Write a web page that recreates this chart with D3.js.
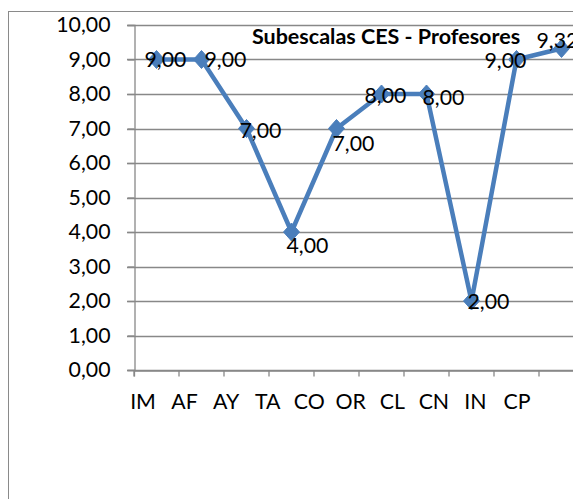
<!DOCTYPE html>
<html><head><meta charset="utf-8">
<script src="https://cdn.jsdelivr.net/npm/d3@7"></script>
<style>
html,body{margin:0;padding:0;background:#fff;overflow:hidden}
svg{display:block}
text{font-family:Lato,"Open Sans",sans-serif}
</style></head>
<body>
<svg id="c" width="573" height="499"></svg>
<script>
const categories = ["IM","AF","AY","TA","CO","OR","CL","CN","IN","CP"];
const values = [9.00, 9.00, 7.00, 4.00, 7.00, 8.00, 8.00, 2.00, 9.00, 9.32];
const yTicks = [0,1,2,3,4,5,6,7,8,9,10];
const title = "Subescalas CES - Profesores";
// label offsets relative to point (style)
const labelOffsets = [[-12,0],[3,0],[-7,2],[-5,14],[-4,15],[-17,2],[-4,4],[-4,1],[-32,1],[-25,-8]];

const fmt = d => d.toFixed(2).replace(".", ",");
const svg = d3.select("#c");
const blue = "#4A7EBB";
const grid = "#888888";
const fs = 21.3;

// chart border
svg.append("rect").attr("x",8.5).attr("y",11.5).attr("width",600).attr("height",520)
  .attr("fill","none").attr("stroke","#8a8a8a").attr("stroke-width",1);

const x = d3.scaleBand().domain(categories).range([134,584]).paddingInner(0).paddingOuter(0);
const y = d3.scaleLinear().domain([0,10]).range([370,25]);

// gridlines
svg.append("g").selectAll("line").data(yTicks).join("line")
  .attr("x1",127).attr("x2",584)
  .attr("y1",d=>Math.round(y(d))+0.5).attr("y2",d=>Math.round(y(d))+0.5)
  .attr("stroke",grid).attr("stroke-width",1.3);

// y axis
const ya = svg.append("g").attr("transform","translate(134.5,0)")
  .call(d3.axisLeft(y).tickValues(yTicks).tickFormat(fmt).tickSize(7).tickPadding(17));
ya.select(".domain").attr("stroke",grid).attr("stroke-width",1.3);
ya.selectAll(".tick line").attr("stroke",grid).attr("stroke-width",1.3);
ya.selectAll("text").attr("font-size",fs).attr("fill","#000").attr("font-family","Lato,sans-serif");

// x axis
const xa = svg.append("g").attr("transform","translate(0,370.5)")
  .call(d3.axisBottom(x).tickSize(6).tickFormat(""));
xa.select(".domain").attr("stroke",grid).attr("stroke-width",1.3);
xa.selectAll(".tick line").attr("stroke",grid).attr("stroke-width",1.3)
  .attr("transform",`translate(${-x.bandwidth()/2},0)`);
// category labels (placed on a slightly narrower point scale, as in the reference)
const xl = d3.scalePoint().domain(categories).range([143,517]);
svg.append("g").selectAll("text").data(categories).join("text")
  .attr("x",d=>xl(d)).attr("y",409).attr("text-anchor","middle")
  .attr("font-size",fs).attr("fill","#000").text(d=>d);

// line
const cx = d => x(d) + x.bandwidth()/2;
svg.append("path").datum(values)
  .attr("d", d3.line().x((d,i)=>cx(categories[i])).y(d=>y(d)))
  .attr("fill","none").attr("stroke",blue).attr("stroke-width",4.5).attr("stroke-linejoin","round");

// markers (diamonds)
const diamond = "M0,-9L8,0L0,9L-8,0Z";
svg.append("g").selectAll("path").data(values).join("path")
  .attr("transform",(d,i)=>`translate(${cx(categories[i])},${y(d)})`)
  .attr("d", diamond).attr("fill",blue).attr("stroke",blue).attr("stroke-width",1);

// data labels
svg.append("g").selectAll("text").data(values).join("text")
  .attr("x",(d,i)=>cx(categories[i])+labelOffsets[i][0])
  .attr("y",(d,i)=>y(d)+labelOffsets[i][1])
  .attr("dy","0.35em").attr("font-size",fs).attr("fill","#000").text(fmt);

// title
svg.append("text").attr("x",386).attr("y",43.5).attr("text-anchor","middle")
  .attr("font-size",21.5).attr("font-weight","bold").attr("fill","#000").text(title);
</script>
</body></html>
